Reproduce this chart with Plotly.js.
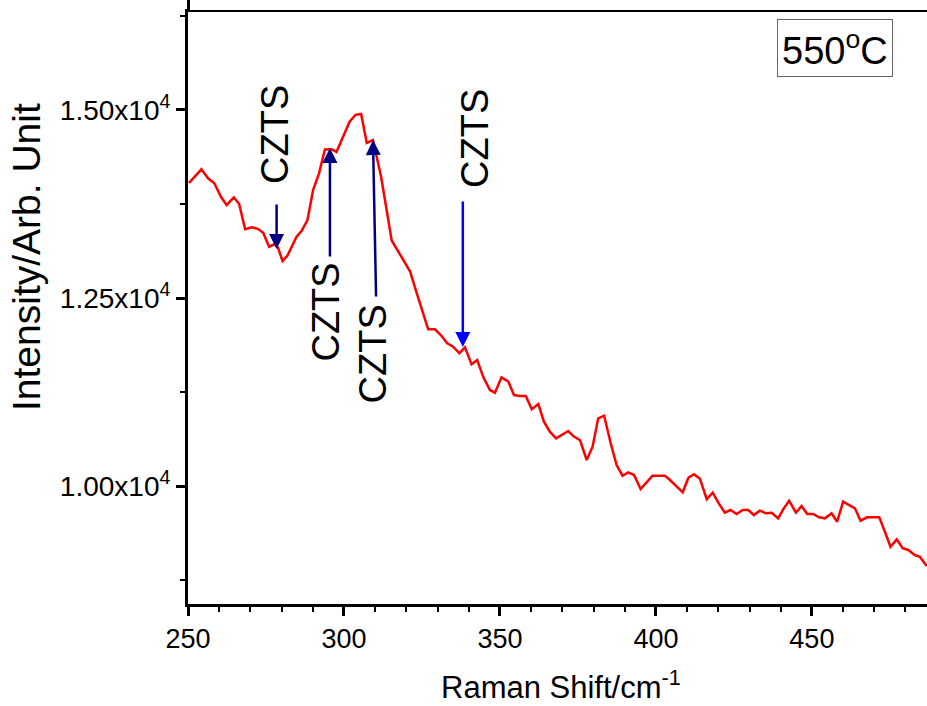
<!DOCTYPE html>
<html>
<head>
<meta charset="utf-8">
<script src="https://cdn.plot.ly/plotly-3.0.1.min.js"></script>
<style>
html,body{margin:0;padding:0;background:#fff;}
#wrap{position:relative;width:927px;height:706px;}
#chart{width:927px;height:706px;}
#topmask{position:absolute;left:190px;top:0;width:737px;height:10px;background:#fff;pointer-events:none;z-index:10;}
</style>
</head>
<body>
<div id="wrap"><div id="chart"></div><div id="topmask"></div></div>
<script>
const ramanShift = [250.3,254.3,256.5,258.4,260.6,262.4,264.7,266.4,268.3,270.4,272.4,274.1,276.0,277.8,278.9,280.3,281.9,283.2,284.8,286.5,288.3,290.1,292.0,293.9,296.1,297.6,299.8,301.8,303.7,305.5,307.3,309.3,311.9,315.3,318.0,321.2,323.3,327.0,329.2,331.3,333.1,335.0,337.0,338.8,340.9,342.7,344.7,346.8,348.4,350.5,352.7,354.5,356.4,358.3,360.2,362.3,364.1,366.0,368.0,369.8,371.9,373.6,375.7,377.8,379.7,381.5,383.4,385.5,387.4,389.3,391.1,393.0,395.1,397.0,398.9,401.1,402.9,404.5,406.6,408.6,410.4,412.2,414.1,416.3,418.2,420.0,422.1,423.9,425.9,427.8,429.6,431.4,433.3,435.3,437.1,439.2,441.0,442.7,444.9,446.7,448.5,450.4,452.3,454.2,456.3,458.1,460.0,462.2,463.8,465.6,467.7,469.7,471.6,473.4,475.2,477.2,479.1,480.9,483.0,484.6,486.8];
const intensity = [14029,14211,14089,14029,13843,13737,13839,13750,13414,13440,13420,13368,13182,13218,13165,12992,13065,13182,13315,13398,13537,13936,14158,14475,14477,14442,14661,14844,14936,14947,14561,14601,14113,13265,13078,12852,12567,12084,12084,11995,11898,11852,11765,11844,11618,11676,11445,11277,11241,11445,11387,11210,11197,11197,11020,11090,10855,10722,10634,10678,10731,10661,10608,10346,10523,10900,10935,10568,10279,10137,10182,10146,9960,10049,10137,10137,10137,10080,9991,9916,10110,10156,10097,9824,9911,9778,9645,9681,9628,9681,9681,9614,9672,9637,9645,9570,9703,9804,9645,9734,9628,9628,9584,9570,9637,9525,9791,9734,9703,9539,9584,9584,9584,9392,9193,9291,9172,9149,9082,9060,8936];

const yTickVals = [10000,12500,15000];
const yTickText = ['1.00x10<sup>4</sup>','1.25x10<sup>4</sup>','1.50x10<sup>4</sup>'];
const yMinorVals = [8750, 11250, 13750, 16250];

const peakLabel = 'CZTS';
const labelX = [277.9, 294.1, 309.3, 342.0];
const labelY = [14668, 12314, 11762, 14628];
const arrowTipX = [278.4, 295.5, 309.3, 338.1];
const arrowTipY = [13152, 14495, 14601, 11848];
const arrowTailX = [278.4, 295.5, 310.3, 338.1];
const arrowTailY = [13763, 13032, 12500, 13803];
const arrowColors = ['#000080','#000080','#000080','#0000FF'];

const FONT = 'Liberation Sans, Arial, sans-serif';
const L = 188, T = 12, PW = 927 - 188, PH = 604 - 12;
const px2x = p => (p - L) / PW;
const py2y = p => 1 - (p - T) / PH;
const X_RANGE = [250, 486.9];

const annotations = [];
for (let i = 0; i < labelX.length; i++) {
  annotations.push({
    x: labelX[i], y: labelY[i], xref: 'x', yref: 'y', xanchor: 'center', yanchor: 'middle',
    text: peakLabel, textangle: -90, showarrow: false,
    font: {family: FONT, size: 38, color: '#000'}
  });
  annotations.push({
    x: arrowTipX[i], y: arrowTipY[i], ax: arrowTailX[i], ay: arrowTailY[i],
    xref: 'x', yref: 'y', axref: 'x', ayref: 'y',
    text: '', showarrow: true, arrowhead: 2, arrowsize: 1.2, arrowwidth: 2.5,
    arrowcolor: arrowColors[i], standoff: 0, startstandoff: 0
  });
}
annotations.push({
  x: px2x(834.5), y: py2y(47.5), xref: 'paper', yref: 'paper', xanchor: 'center', yanchor: 'middle',
  text: '550<sup>o</sup>C', showarrow: false,
  font: {family: FONT, size: 38, color: '#000'},
  bordercolor: '#666', borderwidth: 1, borderpad: 4, bgcolor: '#fff'
});
annotations.push({
  x: px2x(26), y: py2y(257), xref: 'paper', yref: 'paper', xanchor: 'center', yanchor: 'middle',
  text: 'Intensity/Arb. Unit', textangle: -90, showarrow: false,
  font: {family: FONT, size: 39, color: '#000'}
});
annotations.push({
  x: px2x(561), y: py2y(685), xref: 'paper', yref: 'paper', xanchor: 'center', yanchor: 'middle',
  text: 'Raman Shift/cm<sup>-1</sup>', showarrow: false,
  font: {family: FONT, size: 31, color: '#000'}
});

const trace = {
  x: ramanShift, y: intensity, type: 'scatter', mode: 'lines',
  line: {color: '#FF0000', width: 2.5}, hoverinfo: 'skip'
};

const layout = {
  width: 927, height: 706,
  margin: {l: L, r: 0, t: T, b: 102},
  paper_bgcolor: '#fff', plot_bgcolor: '#fff',
  showlegend: false,
  xaxis: {
    range: X_RANGE, showgrid: false, zeroline: false,
    showline: true, linecolor: '#000', linewidth: 3, mirror: 'all',
    ticks: 'outside', ticklen: 9, tickwidth: 3, tickcolor: '#000',
    tick0: 250, dtick: 50,
    minor: {dtick: 10, ticks: 'outside', ticklen: 5, tickwidth: 2, tickcolor: '#000'},
    tickfont: {family: FONT, size: 27, color: '#000'}
  },
  yaxis: {
    range: [8431, 16303], showgrid: false, zeroline: false,
    showline: true, linecolor: '#000', linewidth: 3, mirror: false,
    ticks: 'outside', ticklen: 9, tickwidth: 3, tickcolor: '#000',
    tickmode: 'array', tickvals: yTickVals, ticktext: yTickText,
    minor: {tickmode: 'array', tickvals: yMinorVals, ticks: 'outside', ticklen: 5, tickwidth: 2, tickcolor: '#000'},
    tickfont: {family: FONT, size: 28, color: '#000'}
  },
  annotations: annotations
};

Plotly.newPlot('chart', [trace], layout, {displayModeBar: false, staticPlot: true});
</script>
</body>
</html>
